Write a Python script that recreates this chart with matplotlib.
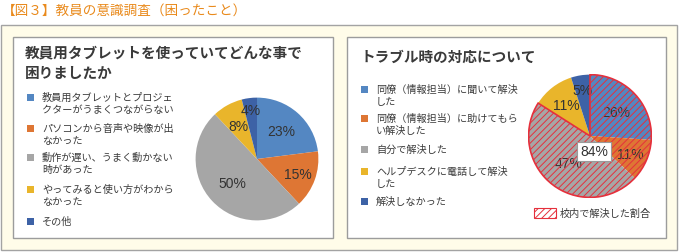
import numpy as np
import matplotlib
matplotlib.use('Agg')
from matplotlib import pyplot as plt
from matplotlib.patches import Rectangle, Wedge

plt.rcParams['font.family'] = ['Noto Sans CJK JP', 'DejaVu Sans']
plt.rcParams['hatch.linewidth'] = 0.7

# Data
title = '【図３】教員の意識調査（困ったこと）'

left_title = '教員用タブレットを使っていてどんな事で\n困りましたか'
left_labels = ['教員用タブレットとプロジェ\nクターがうまくつながらない',
               'パソコンから音声や映像が出\nなかった',
               '動作が遅い、うまく動かない\n時があった',
               'やってみると使い方がわから\nなかった',
               'その他']
left_values = [23, 15, 50, 8, 4]

right_title = 'トラブル時の対応について'
right_labels = ['同僚（情報担当）に聞いて解決\nした',
                '同僚（情報担当）に助けてもら\nい解決した',
                '自分で解決した',
                'ヘルプデスクに電話して解決\nした',
                '解決しなかった']
right_values = [26, 11, 47, 11, 5]
in_school_share = 84
in_school_label = '校内で解決した割合'

colors = ['#5487C2', '#DE7634', '#A6A6A6', '#E9B52B', '#3D62A6']
text_color = '#3a3a3a'
hatch_red = '#E5303C'
pct_font = ['Liberation Sans', 'DejaVu Sans']

W, H = 679, 253
fig = plt.figure(figsize=(W / 100, H / 100), dpi=100, facecolor='white')

# Background axes in pixel coordinates
bg = fig.add_axes([0, 0, 1, 1], zorder=0)
bg.set_xlim(0, W)
bg.set_ylim(H, 0)
bg.axis('off')

bg.add_patch(Rectangle((0.5, 25.5), 676.5, 225.5, facecolor='#FFFCE9',
                       edgecolor='#A3A3A3', linewidth=1))
for x0, x1 in [(12.5, 332.5), (346.5, 665.5)]:
    bg.add_patch(Rectangle((x0, 37.5), x1 - x0, 201, facecolor='white',
                           edgecolor='#9C9C9C', linewidth=1))

bg.text(2, 11, title, color='#E98A1C', fontsize=9.8, va='center', ha='left')

bg.text(25, 63, left_title, color=text_color, fontsize=10.5, va='center',
        ha='left', linespacing=1.35, weight='bold')
bg.text(361, 57, right_title, color=text_color, fontsize=10.5, va='center',
        ha='left', weight='bold')

# Legends
left_rows = [98, 129, 158, 190, 222]
right_rows = [90, 119, 150, 172, 202]
for rows, labels, sx in [(left_rows, left_labels, 27), (right_rows, right_labels, 361)]:
    for y, lab, c in zip(rows, labels, colors):
        bg.add_patch(Rectangle((sx, y - 3.5), 7, 7, facecolor=c, edgecolor='none'))
        nlines = lab.count('\n') + 1
        bg.text(sx + 15, y + (nlines - 1) * 6, lab, color=text_color, fontsize=7.3,
                va='center', ha='left', linespacing=1.2)

bg.add_patch(Rectangle((533.5, 208.5), 22, 10, facecolor='white',
                       edgecolor=hatch_red, hatch='/////', linewidth=0.8))
bg.text(560, 213.5, in_school_label, color=text_color, fontsize=7.3,
        va='center', ha='left')


def pie_axes(cx, cy, r):
    ax = fig.add_axes([(cx - r) / W, (H - cy - r) / H, 2 * r / W, 2 * r / H], zorder=2)
    ax.set_xlim(-1, 1)
    ax.set_ylim(-1, 1)
    ax.axis('off')
    return ax


def draw_pie(ax, values, dists):
    wedges, _, autotexts = ax.pie(values, colors=colors, startangle=90,
                                  counterclock=False, radius=1,
                                  autopct='%.0f%%', pctdistance=0.6,
                                  textprops=dict(color='#333333', fontsize=10,
                                                 family=pct_font),
                                  wedgeprops=dict(linewidth=0))
    for w, t, d in zip(wedges, autotexts, dists):
        ang = np.deg2rad((w.theta1 + w.theta2) / 2)
        t.set_position((d * np.cos(ang), d * np.sin(ang)))
        t.set_ha('center')
        t.set_va('center')
    ax.set_xlim(-1.01, 1.01)
    ax.set_ylim(-1.01, 1.01)
    return wedges, autotexts


ax1 = pie_axes(257, 160, 62)
draw_pie(ax1, left_values, [0.6, 0.7, 0.56, 0.62, 0.8])

ax2 = pie_axes(590, 137, 62)
wedges, autotexts = draw_pie(ax2, right_values, [0.58, 0.72, 0.56, 0.64, 0.76])
ax2.add_patch(Wedge((0, 0), 1, wedges[2].theta1, wedges[0].theta2, fill=False,
                    edgecolor=hatch_red, hatch='/////', linewidth=1.2, zorder=3))
ax2.text(0.065, -0.25, f'{in_school_share}%', color='#333333', fontsize=10,
         family=pct_font, ha='center', va='center', zorder=5,
         bbox=dict(boxstyle='square,pad=0.2', facecolor='white',
                   edgecolor='#9a9a9a', linewidth=0.8))

fig.savefig('out.png', dpi=100, facecolor='white')
